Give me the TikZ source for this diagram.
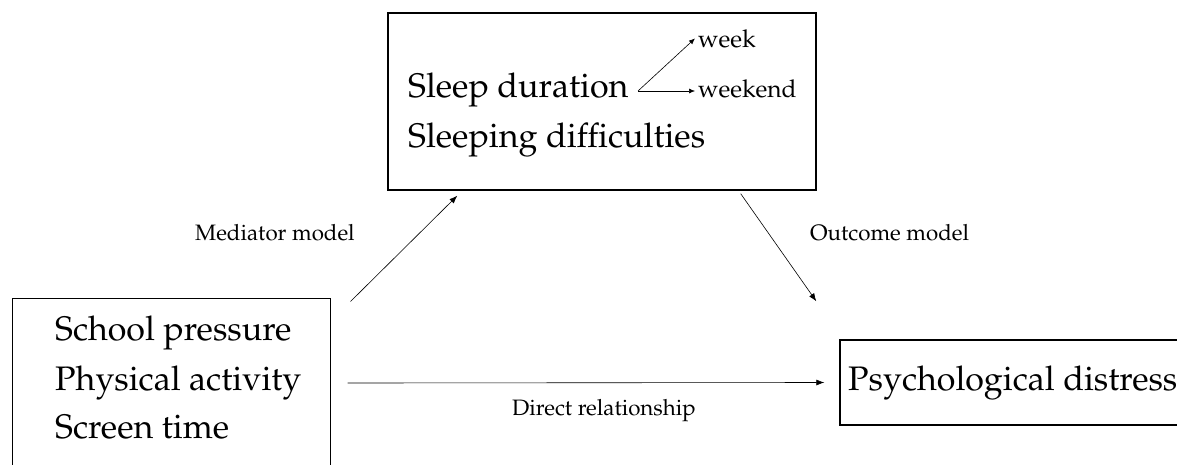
\documentclass[tikz,border=0pt]{standalone}
\usepackage[T1]{fontenc}
\usepackage{mathpazo}
\usetikzlibrary{arrows.meta}

\tikzset{
  boxnode/.style={draw, line width=1.4pt, inner sep=0pt},
  bigtext/.style={inner sep=0pt, anchor=base west, font=\fontsize{34}{34}\selectfont},
  smalltext/.style={inner sep=0pt, anchor=base west, font=\fontsize{22.3}{22}\selectfont},
  subtext/.style={inner sep=0pt, anchor=base west, font=\fontsize{24.5}{24}\selectfont},
  linkarrow/.style={-{Latex[length=8pt,width=6pt]}, line width=0.6pt},
}

\begin{document}
\begin{tikzpicture}[x=1pt,y=-1pt]
  \useasboundingbox (0,0) rectangle (1177,464);

  % boxes
  \node[boxnode, minimum width=428pt, minimum height=177pt] (sleepbox) at (602,101.5) {};
  \node[boxnode, line width=1pt, minimum width=318pt, minimum height=182pt] (factors) at (171,389) {};
  \node[boxnode, minimum width=350pt, minimum height=85pt] (distress) at (1015,382.5) {};

  % texts in the boxes
  \node[bigtext] (sleepdur) at (408,97) {Sleep duration};
  \node[bigtext] (sleepdiff) at (408,147) {Sleeping difficulties};
  \node[subtext] (week) at (698,47) {week};
  \node[subtext] (weekend) at (698,97) {weekend};

  \node[bigtext] (pressure) at (55,340) {School pressure};
  \node[bigtext] (activity) at (55,390) {Physical activity};
  \node[bigtext] (screen) at (55,438) {Screen time};

  \node[bigtext] (distresstext) at (848,390) {Psychological distress};

  % arrow labels
  \node[smalltext] (medlabel) at (195,240) {Mediator model};
  \node[smalltext] (outlabel) at (810,240) {Outcome model};
  \node[smalltext] (dirlabel) at (512,415) {Direct relationship};

  % week / weekend
  \coordinate (fork) at (638,91);
  \draw[linkarrow, -{Latex[length=6pt,width=5pt]}] (fork) -- ([xshift=-3pt]week.west);
  \draw[linkarrow, -{Latex[length=6pt,width=5pt]}] (fork) -- ([xshift=-3pt]weekend.west |- fork);

  % model arrows
  \draw[linkarrow] ([shift={(20,4)}]factors.north east) -- ([shift={(70,5)}]sleepbox.south west);
  \draw[linkarrow] ([shift={(-76,3)}]sleepbox.south east) -- ([shift={(-23,-38)}]distress.north west);
  \draw[linkarrow] ([shift={(17,-6)}]factors.east) -- ([shift={(-15,0)}]distress.west);
\end{tikzpicture}
\end{document}
